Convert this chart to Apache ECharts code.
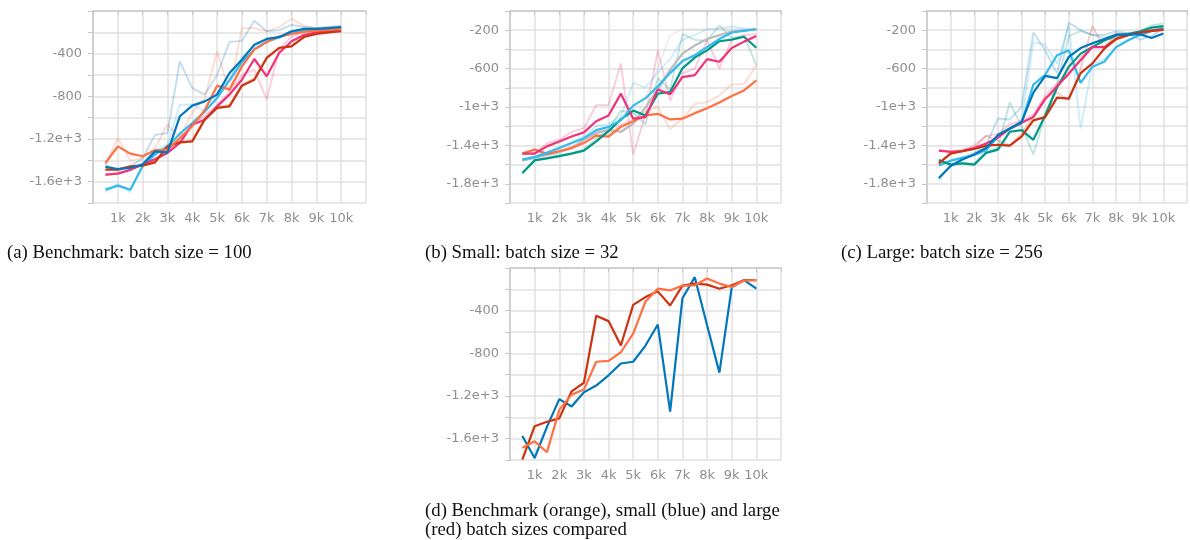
<!DOCTYPE html>
<html>
<head>
<meta charset="utf-8">
<script src="https://cdn.jsdelivr.net/npm/echarts@6/dist/echarts.min.js"></script>
<style>
html,body{margin:0;padding:0;background:#fff;}
#chart{width:1190px;height:540px;}
</style>
</head>
<body>
<div id="chart"></div>
<script>
// ---- shared x values (training steps) ----
const steps = [500,1000,1500,2000,2500,3000,3500,4000,4500,5000,5500,6000,6500,7000,7500,8000,8500,9000,9500,10000];

// ---- captions ----
const captionA = "(a) Benchmark: batch size = 100";
const captionB = "(b) Small: batch size = 32";
const captionC = "(c) Large: batch size = 256";
const captionD1 = "(d) Benchmark (orange), small (blue) and large";
const captionD2 = "(red) batch sizes compared";

// ---- panel (a): benchmark, batch size 100 (smoothed) ----
const orangeA  = [-1425,-1269,-1337,-1362,-1306,-1300,-1190,-1080,-930,-700,-737,-519,-362,-290,-240,-216,-195,-185,-178,-169];
const blueA    = [-1462,-1481,-1470,-1440,-1316,-1325,-987,-887,-847,-784,-581,-456,-316,-262,-245,-190,-168,-168,-160,-150];
const cyanA    = [-1675,-1637,-1675,-1456,-1345,-1270,-1150,-1050,-945,-815,-650,-480,-360,-290,-245,-205,-185,-175,-165,-155];
const magentaA = [-1534,-1525,-1490,-1440,-1390,-1331,-1237,-1066,-1019,-894,-784,-644,-450,-612,-394,-284,-225,-200,-185,-172];
const redA     = [-1487,-1487,-1456,-1450,-1419,-1269,-1231,-1222,-1019,-909,-894,-700,-644,-440,-347,-331,-244,-215,-200,-190];
// raw (faint)
const rawOrangeA  = [-1440,-1190,-1400,-1380,-1280,-1066,-1180,-950,-820,-378,-760,-160,-160,-190,-150,-72,-140,-160,-150,-150];
const rawBlueA    = [-1440,-1500,-1460,-1380,-1162,-1144,-472,-722,-784,-600,-290,-280,-91,-190,-180,-130,-150,-160,-150,-140];
const rawCyanA    = [-1700,-1620,-1700,-1420,-1300,-1250,-880,-875,-940,-760,-640,-430,-340,-280,-240,-200,-180,-170,-160,-150];
const rawMagentaA = [-1540,-1520,-1480,-1430,-1380,-1320,-1200,-1060,-980,-880,-760,-600,-550,-831,-360,-240,-200,-190,-180,-170];
const rawRedA     = [-1490,-1480,-1460,-1450,-1410,-1260,-1230,-1210,-1000,-900,-880,-690,-630,-430,-340,-320,-240,-210,-200,-190];

// ---- panel (b): small, batch size 32 ----
const magentaB = [-1485,-1485,-1410,-1359,-1308,-1264,-1149,-1088,-861,-1122,-1105,-817,-868,-688,-668,-502,-529,-386,-319,-261];
const cyanB    = [-1546,-1522,-1478,-1427,-1376,-1325,-1241,-1207,-1139,-986,-908,-783,-647,-522,-461,-376,-292,-224,-207,-190];
const tealB    = [-1688,-1556,-1536,-1512,-1485,-1454,-1359,-1251,-1129,-1037,-1088,-861,-844,-597,-485,-410,-315,-298,-268,-383];
const orangeB  = [-1485,-1444,-1488,-1461,-1427,-1376,-1298,-1308,-1207,-1149,-1088,-1071,-1129,-1122,-1064,-1014,-953,-885,-827,-722];
const greyB    = [-1560,-1530,-1500,-1470,-1430,-1342,-1270,-1241,-1258,-1173,-1003,-817,-614,-444,-359,-292,-251,-214,-200,-190];
const rawMagentaB = [-1490,-1480,-1380,-1340,-1260,-1220,-980,-980,-546,-1495,-1080,-410,-936,-650,-600,-300,-600,-300,-250,-240];
const rawCyanB    = [-1550,-1510,-1470,-1420,-1370,-1300,-1200,-1180,-1100,-749,-800,-640,-500,-300,-250,-190,-180,-160,-180,-190];
const rawTealB    = [-1700,-1550,-1530,-1500,-1480,-1440,-1330,-1230,-1040,-1060,-1180,-700,-820,-241,-300,-310,-150,-280,-260,-563];
const rawOrangeB  = [-1480,-1440,-1480,-1450,-1410,-1370,-1290,-1290,-1180,-1130,-1050,-1000,-1230,-1120,-970,-950,-880,-766,-760,-563];
const rawGreyB    = [-1560,-1520,-1500,-1460,-1420,-1330,-1260,-1230,-1260,-1180,-900,-600,-250,-190,-190,-190,-190,-190,-190,-195];

// ---- panel (c): large, batch size 256 ----
const blueC    = [-1739,-1614,-1546,-1495,-1427,-1292,-1224,-1156,-851,-675,-700,-478,-386,-336,-292,-247,-247,-241,-281,-234];
const cyanC    = [-1610,-1560,-1530,-1500,-1450,-1310,-1230,-1170,-766,-664,-461,-410,-749,-580,-529,-376,-308,-251,-210,-173];
const tealC    = [-1553,-1600,-1587,-1600,-1478,-1444,-1258,-1241,-1342,-1088,-800,-580,-444,-376,-308,-258,-241,-214,-173,-156];
const redC     = [-1587,-1485,-1461,-1437,-1403,-1393,-1403,-1308,-1139,-1105,-902,-912,-647,-546,-393,-292,-251,-224,-207,-197];
const magentaC = [-1454,-1468,-1460,-1427,-1380,-1319,-1224,-1163,-1105,-919,-783,-654,-512,-376,-376,-292,-251,-224,-207,-190];
const rawBlueC    = [-1760,-1600,-1540,-1480,-1400,-1120,-1130,-1000,-224,-410,-650,-122,-200,-250,-250,-210,-230,-300,-260,-180];
const rawCyanC    = [-1600,-1550,-1520,-1480,-1430,-1300,-1220,-1150,-325,-350,-550,-150,-1224,-550,-500,-380,-300,-250,-200,-150];
const rawTealC    = [-1560,-1600,-1580,-1590,-1470,-1420,-953,-1200,-1495,-1080,-760,-260,-210,-250,-280,-240,-230,-210,-150,-130];
const rawRedC     = [-1590,-1470,-1450,-1420,-1300,-1350,-1400,-1280,-1100,-900,-850,-930,-600,-156,-400,-230,-240,-220,-200,-190];
const rawMagentaC = [-1450,-1460,-1450,-1400,-1300,-1280,-1180,-1140,-1080,-880,-750,-640,-480,-350,-300,-280,-250,-220,-200,-190];

// ---- panel (d): comparison ----
const blueD   = [-1575,-1781,-1489,-1229,-1299,-1165,-1102,-1006,-895,-879,-727,-530,-1346,-283,-86,-537,-981,-181,-114,-194];
const redD    = [-1797,-1483,-1441,-1410,-1156,-1076,-448,-498,-727,-346,-273,-219,-352,-165,-146,-156,-194,-162,-114,-114];
const orangeD = [-1686,-1625,-1727,-1330,-1187,-1140,-879,-870,-790,-616,-314,-194,-210,-165,-162,-98,-146,-178,-117,-114];

// ---- palette ----
const C = {orange:'#ff7043', blue:'#0077bb', red:'#cc3311', cyan:'#33bbee', magenta:'#ee3377', teal:'#009988', grey:'#bbbbbb'};

const chart = echarts.init(document.getElementById('chart'), null, {renderer:'canvas'});

const labelFont = {fontFamily:'DejaVu Sans', fontSize:13, color:'#8f8f8f'};
const gridLine = {show:true, lineStyle:{color:'#e0e0e0', width:1.5}};

const grids = [
  {left:93, top:11, width:273, height:192},
  {left:510, top:11, width:271, height:192},
  {left:927, top:11, width:272, height:192},
  {left:510, top:268, width:271, height:192}
];
const yRanges = [[-1800,0],[-2000,0],[-2000,0],[-1800,0]];

function yFmt(v){
  if (v === 0) return '';
  const a = Math.abs(v);
  if (a >= 1000) return '-' + (a/1000) + 'e+3';
  return String(v);
}

const xAxes = grids.map((g,i)=>({
  gridIndex:i, type:'value', min:0, max:11000, interval:1000,
  axisLine:{show:true, lineStyle:{color:'#c8c8c8', width:1.5}},
  axisTick:{show:true, length:4, lineStyle:{color:'#c8c8c8'}},
  axisLabel:Object.assign({margin:9, formatter:v=> (v===0||v>10000)?'':(v/1000)+'k'}, labelFont),
  splitLine:gridLine
}));
const yAxes = grids.map((g,i)=>({
  gridIndex:i, type:'value', min:yRanges[i][0], max:yRanges[i][1], interval:200,
  axisLine:{show:true, lineStyle:{color:'#c8c8c8', width:1.5}},
  axisTick:{show:true, length:5, lineStyle:{color:'#c8c8c8'}},
  axisLabel:Object.assign({margin:11, formatter:v=>{
    const show = (i===0||i===3) ? (v%400===0) : (v%400===-200);
    return show ? yFmt(v) : '';
  }}, labelFont),
  splitLine:gridLine
}));

function line(idx, vals, color, raw){
  return {
    type:'line', xAxisIndex:idx, yAxisIndex:idx, silent:true, animation:false,
    showSymbol:false, symbol:'none', z: raw?2:3,
    data: steps.map((s,k)=>[s, vals[k]]),
    lineStyle:{color:color, width: raw?1.8:2.2, opacity: raw?0.25:1}
  };
}

const series = [
  // (a)
  line(0,rawOrangeA,C.orange,true), line(0,rawBlueA,C.blue,true), line(0,rawCyanA,C.cyan,true),
  line(0,rawMagentaA,C.magenta,true), line(0,rawRedA,C.red,true),
  line(0,cyanA,C.cyan), line(0,magentaA,C.magenta), line(0,redA,C.red), line(0,orangeA,C.orange), line(0,blueA,C.blue),
  // (b)
  line(1,rawMagentaB,C.magenta,true), line(1,rawCyanB,C.cyan,true), line(1,rawTealB,C.teal,true),
  line(1,rawOrangeB,C.orange,true), line(1,rawGreyB,C.grey,true),
  line(1,greyB,C.grey), line(1,orangeB,C.orange), line(1,tealB,C.teal), line(1,magentaB,C.magenta), line(1,cyanB,C.cyan),
  // (c)
  line(2,rawBlueC,C.blue,true), line(2,rawCyanC,C.cyan,true), line(2,rawTealC,C.teal,true),
  line(2,rawRedC,C.red,true), line(2,rawMagentaC,C.magenta,true),
  line(2,cyanC,C.cyan), line(2,tealC,C.teal), line(2,magentaC,C.magenta), line(2,redC,C.red), line(2,blueC,C.blue),
  // (d)
  line(3,blueD,C.blue), line(3,redD,C.red), line(3,orangeD,C.orange)
];

const capFont = '18.8px "Liberation Serif"';
function cap(text, x, y){
  return {type:'text', left:x, top:y, silent:true,
    style:{text:text, font:capFont, fill:'#111', textVerticalAlign:'top'}};
}

chart.setOption({
  animation:false,
  backgroundColor:'#ffffff',
  grid:grids,
  xAxis:xAxes,
  yAxis:yAxes,
  series:series,
  graphic:[
    cap(captionA, 7, 244),
    cap(captionB, 425, 244),
    cap(captionC, 841, 244),
    cap(captionD1, 425, 502),
    cap(captionD2, 425, 521)
  ]
});
</script>
</body>
</html>
